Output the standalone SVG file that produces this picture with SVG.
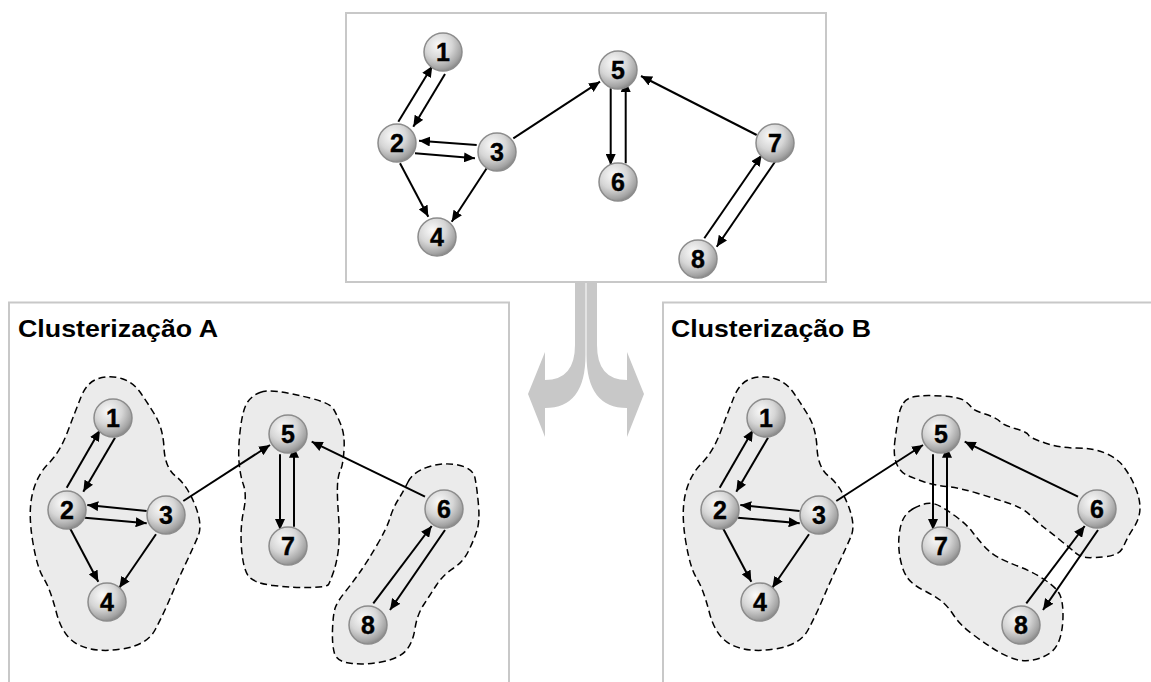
<svg xmlns="http://www.w3.org/2000/svg" width="1151" height="682" viewBox="0 0 1151 682">
<style>
.panel{fill:none;stroke:#c8c8c8;stroke-width:2}
.blob{fill:#ebebeb;stroke:#000;stroke-width:1.5;stroke-dasharray:7,4}
.e{fill:none;stroke:#000;stroke-width:2;marker-end:url(#ah)}
.n circle{fill:url(#sph);stroke:#8c8c8c;stroke-width:1.5}
.n text{font-family:"Liberation Sans",Arial,sans-serif;font-weight:bold;font-size:25px;fill:#000;stroke:#000;stroke-width:0.4;text-anchor:middle}
.title{font-family:"Liberation Sans",Arial,sans-serif;font-weight:bold;font-size:24px;fill:#000}
.bigarrow{fill:#c8c8c8}
</style>
<defs>
<radialGradient id="sph" cx="38%" cy="32%" r="72%">
<stop offset="0" stop-color="#fafafa"/>
<stop offset="0.5" stop-color="#d6d6d6"/>
<stop offset="0.85" stop-color="#a4a4a4"/>
<stop offset="1" stop-color="#858585"/>
</radialGradient>
<marker id="ah" markerUnits="userSpaceOnUse" markerWidth="12" markerHeight="10" refX="11" refY="5" orient="auto">
<path d="M0,0 L11,5 L0,10 z" fill="#000"/>
</marker>
</defs>

<g id="panels">
<rect class="panel" x="346" y="13" width="480" height="269"/>
<path class="panel" d="M9,690 V302.5 H509 V690"/>
<path class="panel" d="M663,690 V302.5 H1160"/>
</g>

<g id="bigarrow">
<path class="bigarrow" d="M575,282 L575,345 Q575,380 545,380 L545,352 L528,394 L545,437 L545,408 Q585.5,408 585.5,355 L585.5,282 Z"/>
<path class="bigarrow" d="M597,282 L597,345 Q597,380 627,380 L627,352 L644,394 L627,437 L627,408 Q586.5,408 586.5,355 L586.5,282 Z"/>
</g>

<text id="titleA" class="title" x="18" y="337" textLength="200" lengthAdjust="spacingAndGlyphs">Clusterização A</text>
<text id="titleB" class="title" x="671" y="337" textLength="200" lengthAdjust="spacingAndGlyphs">Clusterização B</text>

<g id="clusters">
<path id="clusterA1" class="blob" d="M98.5,378.5 Q110,375 121.5,378.5 Q133,382 140,392 Q147,402 155,415 Q163,428 164,448 Q165,468 176,476.5 Q187,485 195,505 Q203,525 198,536.5 Q193,548 185,565 Q177,582 170,598.5 Q163,615 155,630 Q147,645 122,649 Q97,653 80,645.5 Q63,638 56.5,613 Q50,588 43.5,578 Q37,568 32.5,540 Q28,512 32.5,493.5 Q37,475 48.5,463.5 Q60,452 67.5,432 Q75,412 81,397 Q87,382 98.5,378.5 Z"/>
<path id="clusterA2" class="blob" d="M260,392.5 Q267,390 278.5,391.5 Q290,393 310,398 Q330,403 333.5,409 Q337,415 341,425 Q345,435 344,450 Q343,465 340.5,470 Q338,475 337.5,485 Q337,495 338.5,515 Q340,535 338.5,548.5 Q337,562 333.5,572 Q330,582 328.5,584.5 Q327,587 310,587.5 Q293,588 273,585.5 Q253,583 248,575.5 Q243,568 241.5,548 Q240,528 243.5,511.5 Q247,495 243.5,485 Q240,475 239,461.5 Q238,448 240.5,428 Q243,408 248,401.5 Q253,395 260,392.5 Z"/>
<path id="clusterA3" class="blob" d="M408,482 Q413,472 428,467 Q443,462 458,465 Q473,468 475,478 Q477,488 478.5,505 Q480,522 476.5,532 Q473,542 468,552 Q463,562 453,568.5 Q443,575 436.5,585 Q430,595 423.5,605 Q417,615 415,628.5 Q413,642 406.5,650 Q400,658 383.5,661.5 Q367,665 352,663.5 Q337,662 334.5,653.5 Q332,645 332.5,630 Q333,615 335,608.5 Q337,602 345,592 Q353,582 360,572 Q367,562 377,545 Q387,528 390,518 Q393,508 398,500 Q403,492 408,482 Z"/>
<path id="clusterB1" class="blob" transform="translate(653,0)" d="M98.5,378.5 Q110,375 121.5,378.5 Q133,382 140,392 Q147,402 155,415 Q163,428 164,448 Q165,468 176,476.5 Q187,485 195,505 Q203,525 198,536.5 Q193,548 185,565 Q177,582 170,598.5 Q163,615 155,630 Q147,645 122,649 Q97,653 80,645.5 Q63,638 56.5,613 Q50,588 43.5,578 Q37,568 32.5,540 Q28,512 32.5,493.5 Q37,475 48.5,463.5 Q60,452 67.5,432 Q75,412 81,397 Q87,382 98.5,378.5 Z"/>
<path id="clusterB2" class="blob" d="M903.5,403 Q907,398 915,396.5 Q923,395 941.5,396 Q960,397 965,401 Q970,405 971.5,407.5 Q973,410 985,414 Q997,418 1000,421.5 Q1003,425 1015,428.5 Q1027,432 1028.5,435 Q1030,438 1045,443 Q1060,448 1076.5,448 Q1093,448 1105,453 Q1117,458 1123.5,466.5 Q1130,475 1135,486.5 Q1140,498 1140,508 Q1140,518 1133.5,528 Q1127,538 1123.5,546.5 Q1120,555 1106.5,556.5 Q1093,558 1086.5,557.5 Q1080,557 1075,552.5 Q1070,548 1060,540 Q1050,532 1043.5,527 Q1037,522 1030,515 Q1023,508 1008,503 Q993,498 976.5,493 Q960,488 946.5,486.5 Q933,485 923,481.5 Q913,478 906.5,475 Q900,472 896.5,463.5 Q893,455 895,440 Q897,425 898.5,416.5 Q900,408 903.5,403 Z"/>
<path id="clusterB3" class="blob" d="M913.5,508.5 Q920,505 926.5,503.5 Q933,502 941.5,507 Q950,512 958.5,518.5 Q967,525 972,531.5 Q977,538 983.5,545.5 Q990,553 998.5,557.5 Q1007,562 1020,567 Q1033,572 1045,580 Q1057,588 1060,595 Q1063,602 1063,615 Q1063,628 1060,638 Q1057,648 1050,653 Q1043,658 1033,660 Q1023,662 1013,658.5 Q1003,655 993,648.5 Q983,642 971.5,633.5 Q960,625 953.5,615 Q947,605 940,600 Q933,595 923,590 Q913,585 908,578.5 Q903,572 900.5,560 Q898,548 899,536.5 Q900,525 903.5,518.5 Q907,512 913.5,508.5 Z"/>
</g>

<g id="connectors">
<!-- top graph -->
<line class="e" x1="398.3" y1="121.7" x2="432.3" y2="66"/>
<line class="e" x1="445" y1="74" x2="413.3" y2="126.7"/>
<line class="e" x1="476.7" y1="145" x2="419" y2="140.7"/>
<line class="e" x1="415" y1="153.3" x2="475" y2="158.3"/>
<line class="e" x1="400" y1="163.3" x2="428.3" y2="216.7"/>
<line class="e" x1="486.7" y1="168.3" x2="451.7" y2="221.7"/>
<line class="e" x1="513.3" y1="138.3" x2="600" y2="81.7"/>
<line class="e" x1="610.7" y1="88.3" x2="610.7" y2="165"/>
<line class="e" x1="625.7" y1="163.3" x2="625.7" y2="81"/>
<line class="e" x1="756.7" y1="135" x2="641" y2="76"/>
<line class="e" x1="704.3" y1="238.3" x2="761.7" y2="155"/>
<line class="e" x1="775" y1="161.7" x2="716.7" y2="246.7"/>
<!-- panel A -->
<line class="e" x1="66.7" y1="487.7" x2="100" y2="430"/>
<line class="e" x1="115" y1="437.7" x2="83.3" y2="491.7"/>
<line class="e" x1="146.7" y1="511" x2="87.3" y2="505"/>
<line class="e" x1="85" y1="517.7" x2="146.7" y2="523.3"/>
<line class="e" x1="70" y1="528.3" x2="98.3" y2="581.7"/>
<line class="e" x1="156" y1="534.3" x2="119.3" y2="587.7"/>
<line class="e" x1="183.3" y1="501" x2="270" y2="445"/>
<line class="e" x1="280" y1="454.3" x2="280" y2="530"/>
<line class="e" x1="294" y1="526.7" x2="294" y2="446.7"/>
<line class="e" x1="425" y1="496.7" x2="311.7" y2="441.7"/>
<line class="e" x1="373.3" y1="603.3" x2="431.7" y2="526"/>
<line class="e" x1="445" y1="530" x2="390" y2="610"/>
<!-- panel B -->
<g transform="translate(653,0)">
<line class="e" x1="66.7" y1="487.7" x2="100" y2="430"/>
<line class="e" x1="115" y1="437.7" x2="83.3" y2="491.7"/>
<line class="e" x1="146.7" y1="511" x2="87.3" y2="505"/>
<line class="e" x1="85" y1="517.7" x2="146.7" y2="523.3"/>
<line class="e" x1="70" y1="528.3" x2="98.3" y2="581.7"/>
<line class="e" x1="156" y1="534.3" x2="119.3" y2="587.7"/>
<line class="e" x1="183.3" y1="501" x2="270" y2="445"/>
<line class="e" x1="280" y1="454.3" x2="280" y2="530"/>
<line class="e" x1="294" y1="526.7" x2="294" y2="446.7"/>
<line class="e" x1="425" y1="496.7" x2="311.7" y2="441.7"/>
<line class="e" x1="373.3" y1="603.3" x2="431.7" y2="526"/>
<line class="e" x1="445" y1="530" x2="390" y2="610"/>
</g>
</g>

<g id="top-nodes">
<g id="t1" class="n"><circle cx="443" cy="52" r="19"/><text x="443" y="61">1</text></g>
<g id="t2" class="n"><circle cx="397" cy="143" r="19"/><text x="397" y="152">2</text></g>
<g id="t3" class="n"><circle cx="497" cy="152" r="19"/><text x="497" y="161">3</text></g>
<g id="t4" class="n"><circle cx="437" cy="237" r="19"/><text x="437" y="246">4</text></g>
<g id="t5" class="n"><circle cx="618" cy="70" r="19"/><text x="618" y="79">5</text></g>
<g id="t6" class="n"><circle cx="618" cy="182" r="19"/><text x="618" y="191">6</text></g>
<g id="t7" class="n"><circle cx="775" cy="143" r="19"/><text x="775" y="152">7</text></g>
<g id="t8" class="n"><circle cx="698" cy="259" r="19"/><text x="698" y="268">8</text></g>
</g>

<g id="A-nodes">
<g id="a1" class="n"><circle cx="113" cy="418" r="19"/><text x="113" y="427">1</text></g>
<g id="a2" class="n"><circle cx="67" cy="510" r="19"/><text x="67" y="519">2</text></g>
<g id="a3" class="n"><circle cx="166" cy="515" r="19"/><text x="166" y="524">3</text></g>
<g id="a4" class="n"><circle cx="107" cy="602" r="19"/><text x="107" y="611">4</text></g>
<g id="a5" class="n"><circle cx="288" cy="434" r="19"/><text x="288" y="443">5</text></g>
<g id="a7" class="n"><circle cx="288" cy="546" r="19"/><text x="288" y="555">7</text></g>
<g id="a6" class="n"><circle cx="444" cy="509" r="19"/><text x="444" y="518">6</text></g>
<g id="a8" class="n"><circle cx="368" cy="625" r="19"/><text x="368" y="634">8</text></g>
</g>

<g id="B-nodes">
<g id="b1" class="n"><circle cx="766" cy="418" r="19"/><text x="766" y="427">1</text></g>
<g id="b2" class="n"><circle cx="720" cy="510" r="19"/><text x="720" y="519">2</text></g>
<g id="b3" class="n"><circle cx="819" cy="515" r="19"/><text x="819" y="524">3</text></g>
<g id="b4" class="n"><circle cx="760" cy="602" r="19"/><text x="760" y="611">4</text></g>
<g id="b5" class="n"><circle cx="941" cy="434" r="19"/><text x="941" y="443">5</text></g>
<g id="b7" class="n"><circle cx="941" cy="546" r="19"/><text x="941" y="555">7</text></g>
<g id="b6" class="n"><circle cx="1097" cy="509" r="19"/><text x="1097" y="518">6</text></g>
<g id="b8" class="n"><circle cx="1021" cy="625" r="19"/><text x="1021" y="634">8</text></g>
</g>
</svg>
